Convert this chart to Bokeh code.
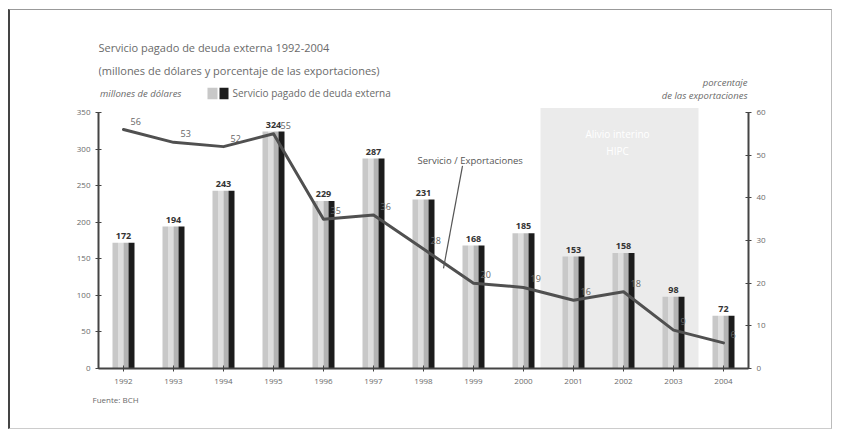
from bokeh.plotting import figure
from bokeh.models import (FactorRange, Range1d, LinearAxis, FixedTicker, Label,
                          ColumnDataSource, BoxAnnotation, Title)
from bokeh.transform import dodge
from bokeh.core.properties import value
from bokeh.embed import file_html
from bokeh.resources import INLINE

years = ["1992", "1993", "1994", "1995", "1996", "1997", "1998",
         "1999", "2000", "2001", "2002", "2003", "2004"]
servicio = [172, 194, 243, 324, 229, 287, 231, 168, 185, 153, 158, 98, 72]
pct_export = [56, 53, 52, 55, 35, 36, 28, 20, 19, 16, 18, 9, 6]
left_ticks = [0, 50, 100, 150, 200, 250, 300, 350]
right_ticks = [0, 10, 20, 30, 40, 50, 60]

FONT = "Open Sans"
TXT = "#6a6a6a"

src = ColumnDataSource(dict(
    year=years, val=servicio, pct=pct_export,
    val_lbl=[str(v) for v in servicio],
    pct_lbl=[str(v) for v in pct_export],
))

p = figure(width=824, height=420, output_backend="svg", toolbar_location=None,
           x_range=FactorRange(factors=years, range_padding=0),
           y_range=Range1d(0, 475.8),
           min_border_left=88, min_border_right=86,
           min_border_top=10, min_border_bottom=62)
p.extra_y_ranges = {"pct": Range1d(0, 81.56)}
p.styles = {"margin-left": "8px", "margin-top": "9px",
            "border-left": "2px solid #444", "border-top": "1px solid #999",
            "border-right": "1px solid #bbb", "border-bottom": "1px solid #ccc"}
p.outline_line_color = None
p.xgrid.grid_line_color = None
p.ygrid.grid_line_color = None
p.background_fill_color = "white"
p.border_fill_color = "white"

# highlighted period box
p.add_layout(BoxAnnotation(left=8.84, right=12.0, bottom=-62, top=356,
                           fill_color="#ebebeb", fill_alpha=1.0,
                           line_color=None, level="underlay"))

# bars (cylinder look with strips)
strips = [(-0.165, 0.11, "#c8c8c8"), (-0.055, 0.11, "#dedede"),
          (0.05, 0.10, "#b4b4b4"), (0.16, 0.12, "#1c1c1c")]
for off, w, col in strips:
    p.vbar(x=dodge("year", off, range=p.x_range), top="val", bottom=0,
           width=w, source=src, fill_color=col, line_color=None)

p.text(x="year", y="val", text="val_lbl", source=src, y_offset=-4,
       text_align="center", text_baseline="bottom", text_font=value(FONT),
       text_font_size="9px", text_font_style="bold", text_color="#333")

# percentage line
p.line(x="year", y="pct", source=src, y_range_name="pct",
       line_color="#505050", line_width=3, line_join="round", line_cap="round")
p.text(x="year", y="pct", text="pct_lbl", source=src, y_range_name="pct",
       x_offset=7, y_offset=-5, text_align="left", text_baseline="bottom",
       text_font=value(FONT), text_font_size="9px", text_color="#666")

# axes
p.yaxis.ticker = FixedTicker(ticks=left_ticks)
p.yaxis.bounds = (0, 350)
ax_r = LinearAxis(y_range_name="pct", ticker=FixedTicker(ticks=right_ticks),
                  bounds=(0, 60))
p.add_layout(ax_r, "right")
for ax in [p.yaxis[0], ax_r]:
    ax.axis_line_color = "#444"
    ax.axis_line_width = 2
    ax.major_tick_line_color = "#444"
    ax.major_tick_in = 3
    ax.major_tick_out = 3
    ax.minor_tick_line_color = None
    ax.major_label_text_font = FONT
    ax.major_label_text_font_size = "8px"
    ax.major_label_text_color = TXT
xa = p.xaxis[0]
xa.axis_line_color = "#444"
xa.axis_line_width = 2
xa.major_tick_line_color = "#444"
xa.major_tick_in = 3
xa.major_tick_out = 3
xa.major_label_text_font = FONT
xa.major_label_text_font_size = "8px"
xa.major_label_text_color = TXT
xa.major_label_standoff = 7

p.add_layout(Title(text="Fuente: BCH", align="left", offset=-6,
                   text_font=FONT, text_font_size="8px", text_color=TXT,
                   text_font_style="normal", standoff=10), "below")

# leader line for annotation
p.segment(x0=[7.28], y0=[277], x1=[6.9], y1=[137], line_color="#555", line_width=1.2)

def lab(x, y, t, size="10px", color=TXT, style="normal", align="left"):
    p.add_layout(Label(x=x, y=y, text=t, text_font=FONT, text_font_size=size,
                       text_color=color, text_font_style=style, text_align=align,
                       text_baseline="middle"))

lab(0.0, 439, "Servicio pagado de deuda externa 1992-2004", "11px")
lab(0.0, 407, "(millones de dólares y porcentaje de las exportaciones)", "11px")
lab(0.03, 376, "millones de dólares", "9.5px", style="italic")
lab(2.68, 376, "Servicio pagado de deuda externa", "10px")
lab(12.98, 391, "porcentaje", "9.5px", style="italic", align="right")
lab(12.98, 373, "de las exportaciones", "9.5px", style="italic", align="right")
lab(6.38, 284, "Servicio / Exportaciones", "9.5px", color="#555")
lab(10.38, 321, "Alivio interino", "10px", color="white", align="center")
lab(10.38, 298, "HIPC", "10px", color="white", align="center")

# legend squares
p.add_layout(BoxAnnotation(left=2.18, right=2.38, bottom=368, top=384,
                           fill_color="#c8c8c8", fill_alpha=1, line_color=None))
p.add_layout(BoxAnnotation(left=2.42, right=2.6, bottom=368, top=384,
                           fill_color="#1c1c1c", fill_alpha=1, line_color=None))

open("out.html", "w").write(file_html(p, INLINE))
